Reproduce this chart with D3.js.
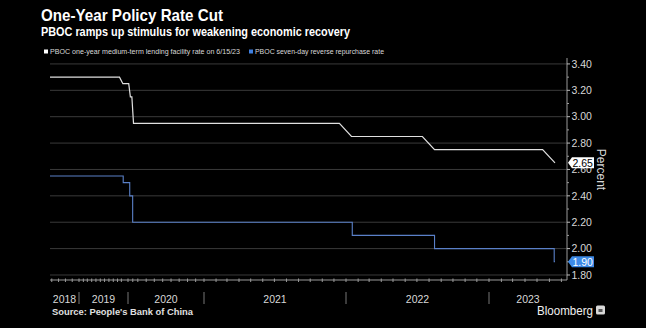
<!DOCTYPE html>
<html>
<head>
<meta charset="utf-8">
<script src="https://cdn.jsdelivr.net/npm/d3@7"></script>
<style>
  html, body { margin: 0; padding: 0; background: #000; }
  svg { display: block; }
</style>
</head>
<body>
<svg id="chart" width="646" height="328"></svg>
<script>
// ---------------------------------------------------------------------------
// Data
// ---------------------------------------------------------------------------
const parse = d3.timeParse("%Y-%m-%d");

// PBOC one-year MLF rate, monthly (flat stretches collapse to their ends)
const mlfDates = ["2018-04-15", "2019-10-15", "2019-11-15", "2020-01-15", "2020-02-15",
    "2020-03-15", "2020-04-15", "2021-12-15", "2022-01-15", "2022-07-15",
    "2022-08-15", "2023-05-15", "2023-06-15"];
const mlfRates = [3.30, 3.30, 3.25, 3.25, 3.15, 3.15, 2.95, 2.95, 2.85, 2.85, 2.75, 2.75, 2.65];

// PBOC seven-day reverse repo rate, change dates (step series)
const repoDates = ["2018-04-15", "2019-11-18", "2020-02-03", "2020-03-30",
    "2022-01-17", "2022-08-15", "2023-06-13", "2023-06-15"];
const repoRates = [2.55, 2.50, 2.40, 2.20, 2.10, 2.00, 1.90, 1.90];

const yTicks = [1.80, 2.00, 2.20, 2.40, 2.60, 2.80, 3.00, 3.20, 3.40];
const yMinorTicks = [1.90, 2.10, 2.30, 2.50, 2.70, 2.90, 3.10, 3.30];
const yearLabels = ["2018", "2019", "2020", "2021", "2022", "2023"];

// The Bloomberg time axis is uneven (observation based), so the scale is piecewise
const xKnotDates = ["2018-04-15", "2019-01-01", "2019-10-15", "2020-01-01", "2020-04-15",
    "2021-01-01", "2022-01-01", "2023-01-01", "2023-07-15"];
const xKnotPx = [50, 79, 119.5, 128, 133.5, 204, 346, 489, 567];

const mlf = mlfDates.map((d, i) => ({ date: parse(d), value: mlfRates[i] }));
const repo = repoDates.map((d, i) => ({ date: parse(d), value: repoRates[i] }));

// ---------------------------------------------------------------------------
// Layout
// ---------------------------------------------------------------------------
const FONT = "'Liberation Sans', Arial, sans-serif";
const plot = { left: 50, right: 567, top: 58, bottom: 280 };

const svg = d3.select("#chart");
svg.append("rect").attr("width", 646).attr("height", 328).attr("fill", "#000");

const x = d3.scaleTime()
    .domain(xKnotDates.map(parse))
    .range(xKnotPx);

const y = d3.scaleLinear()
    .domain([1.762, 3.445])
    .range([plot.bottom, plot.top]);

// Titles
svg.append("text")
    .attr("x", 41).attr("y", 21)
    .attr("textLength", 182).attr("lengthAdjust", "spacingAndGlyphs")
    .style("font-family", FONT).style("font-weight", "700")
    .style("font-size", "17px").style("fill", "#fff")
    .text("One-Year Policy Rate Cut");

svg.append("text")
    .attr("x", 41).attr("y", 36)
    .attr("textLength", 309).attr("lengthAdjust", "spacingAndGlyphs")
    .style("font-family", FONT).style("font-weight", "700")
    .style("font-size", "12.5px").style("fill", "#fff")
    .text("PBOC ramps up stimulus for weakening economic recovery");

// Legend
const legend = [
    { label: "PBOC one-year medium-term lending facility rate on 6/15/23", color: "#ffffff", x: 44, w: 190 },
    { label: "PBOC seven-day reverse repurchase rate", color: "#3f7fe0", x: 249, w: 129 }
];
legend.forEach(l => {
    svg.append("rect")
        .attr("x", l.x).attr("y", 49.5).attr("width", 4).attr("height", 4)
        .attr("fill", l.color);
    svg.append("text")
        .attr("x", l.x + 6).attr("y", 54)
        .attr("textLength", l.w).attr("lengthAdjust", "spacingAndGlyphs")
        .style("font-family", FONT).style("font-size", "7.5px").style("fill", "#d8d8d8")
        .text(l.label);
});

// Gridlines
svg.append("g")
    .selectAll("line")
    .data(yTicks)
    .join("line")
    .attr("x1", plot.left).attr("x2", plot.right)
    .attr("y1", d => y(d)).attr("y2", d => y(d))
    .attr("stroke", "#3a3a3a").attr("stroke-width", 1);

// Right axis
const yAxis = svg.append("g").attr("transform", `translate(${plot.right},0)`);
yAxis.append("line")
    .attr("y1", plot.top).attr("y2", plot.bottom)
    .attr("stroke", "#9a9a9a");
yAxis.selectAll(".minor")
    .data(yMinorTicks)
    .join("line")
    .attr("class", "minor")
    .attr("x1", 0).attr("x2", 2)
    .attr("y1", d => y(d)).attr("y2", d => y(d))
    .attr("stroke", "#9a9a9a");
yAxis.selectAll(".major")
    .data(yTicks)
    .join("line")
    .attr("class", "major")
    .attr("x1", 0).attr("x2", 3)
    .attr("y1", d => y(d)).attr("y2", d => y(d))
    .attr("stroke", "#bbb");
yAxis.selectAll("text")
    .data(yTicks)
    .join("text")
    .attr("x", 4.5).attr("y", d => y(d) + 3.8)
    .style("font-family", FONT).style("font-size", "10.5px").style("fill", "#d8d8d8")
    .text(d => d3.format(".2f")(d));

svg.append("text")
    .attr("transform", `translate(597,${y(2.60)}) rotate(90)`)
    .attr("text-anchor", "middle")
    .style("font-family", FONT).style("font-size", "12px").style("fill", "#d8d8d8")
    .text("Percent");

// Bottom axis
const months = d3.timeMonth.range(x.domain()[0], x.domain()[x.domain().length - 1]);
let lastPx = -10;
const monthTicks = months.filter(m => {
    const px = x(m);
    if (px - lastPx < 3.5) return false;
    lastPx = px;
    return true;
});
svg.append("line")
    .attr("x1", plot.left).attr("x2", plot.right)
    .attr("y1", plot.bottom).attr("y2", plot.bottom)
    .attr("stroke", "#9a9a9a");
svg.append("g")
    .selectAll("line")
    .data(monthTicks)
    .join("line")
    .attr("x1", d => x(d)).attr("x2", d => x(d))
    .attr("y1", plot.bottom - 1.5).attr("y2", plot.bottom + 2)
    .attr("stroke", "#9a9a9a");

const yearStarts = yearLabels.slice(1).map(yr => parse(`${yr}-01-01`));
svg.append("g")
    .selectAll("line")
    .data(yearStarts)
    .join("line")
    .attr("x1", d => x(d)).attr("x2", d => x(d))
    .attr("y1", 292).attr("y2", 304)
    .attr("stroke", "#777");

const xBounds = [x.range()[0], ...yearStarts.map(x), x.range()[x.range().length - 1]];
svg.append("g")
    .selectAll("text")
    .data(yearLabels)
    .join("text")
    .attr("x", (d, i) => (xBounds[i] + xBounds[i + 1]) / 2)
    .attr("y", 303)
    .attr("text-anchor", "middle")
    .style("font-family", FONT).style("font-size", "10.5px").style("fill", "#d8d8d8")
    .text(d => d);

// Lines
const mlfLine = d3.line().x(d => x(d.date)).y(d => y(d.value));
svg.append("path")
    .datum(mlf)
    .attr("fill", "none").attr("stroke", "#e0e0e0").attr("stroke-width", 1.2)
    .attr("d", mlfLine);

const repoLine = d3.line().x(d => x(d.date)).y(d => y(d.value)).curve(d3.curveStepAfter);
svg.append("path")
    .datum(repo)
    .attr("fill", "none").attr("stroke", "#5a80c8").attr("stroke-width", 1.1)
    .attr("d", repoLine);

// Last value tags
const tags = [
    { value: mlfRates[mlfRates.length - 1], fill: "#ffffff", text: "#000" },
    { value: repoRates[repoRates.length - 1], fill: "#3d8ae6", text: "#fff" }
];
tags.forEach(t => {
    const cy = y(t.value);
    const x0 = plot.right + 1;
    svg.append("path")
        .attr("d", `M${x0},${cy} L${x0 + 4},${cy - 5.5} L${x0 + 26},${cy - 5.5} L${x0 + 26},${cy + 5.5} L${x0 + 4},${cy + 5.5} Z`)
        .attr("fill", t.fill);
    svg.append("text")
        .attr("x", x0 + 4.5).attr("y", cy + 3.8)
        .style("font-family", FONT).style("font-size", "10.5px").style("fill", t.text)
        .text(d3.format(".2f")(t.value));
});

// Footer
svg.append("text")
    .attr("x", 52).attr("y", 315)
    .attr("textLength", 141).attr("lengthAdjust", "spacingAndGlyphs")
    .style("font-family", FONT).style("font-weight", "700")
    .style("font-size", "9px").style("fill", "#e0e0e0")
    .text("Source: People's Bank of China");

svg.append("text")
    .attr("x", 537).attr("y", 315)
    .attr("textLength", 56).attr("lengthAdjust", "spacingAndGlyphs")
    .style("font-family", FONT).style("font-size", "12px").style("fill", "#f0f0f0")
    .text("Bloomberg");
svg.append("rect")
    .attr("x", 596).attr("y", 305.5).attr("width", 9).attr("height", 9).attr("rx", 1.5)
    .attr("fill", "#d8d8d8");
svg.append("rect")
    .attr("x", 598.5).attr("y", 309).attr("width", 4).attr("height", 3)
    .attr("fill", "#555");
</script>
</body>
</html>
